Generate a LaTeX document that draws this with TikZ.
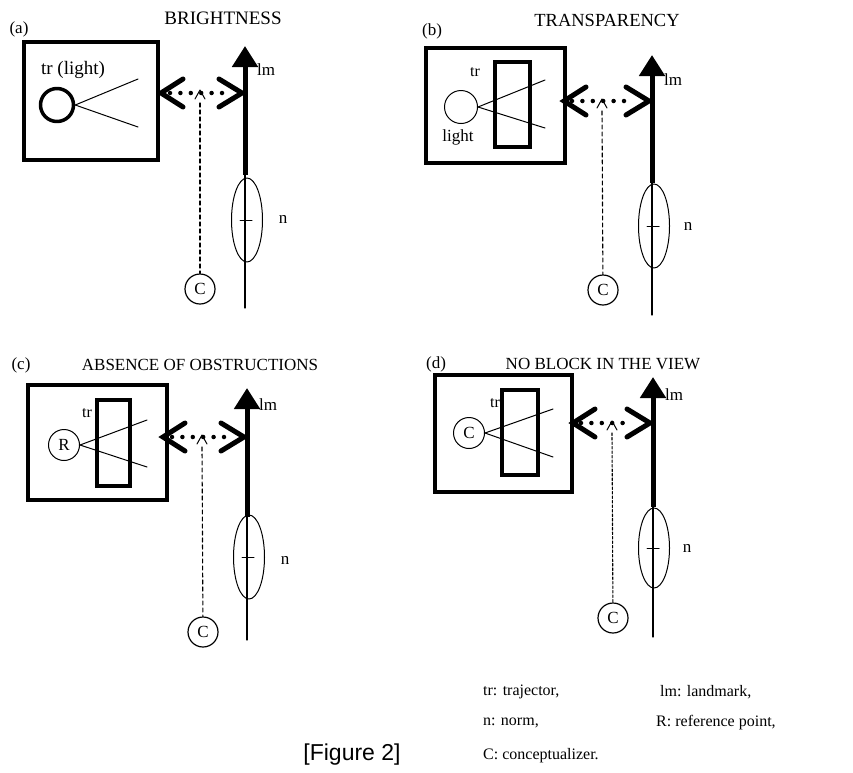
\documentclass[tikz,border=0pt]{standalone}
\usepackage{fontspec}
\setmainfont{Liberation Serif}
\newfontfamily\figfont{Liberation Sans}
\usetikzlibrary{calc,arrows.meta,positioning,shapes.geometric}

\begin{document}
\begin{tikzpicture}[x=1pt, y=-1pt, line cap=round, line join=round,
  frame/.style={line width=4.5pt, line join=miter, line cap=butt},
  blocker/.style={line width=4.5pt, line join=miter, line cap=butt},
  ray/.style={line width=1pt},
  lamp/.style={circle, draw, line width=1pt, minimum size=31pt, inner sep=0pt,
               font=\fontsize{17}{17}\selectfont},
  conc/.style={circle, draw, line width=1.2pt, minimum size=30pt, inner sep=0pt,
               font=\fontsize{17}{17}\selectfont},
  norm/.style={ellipse, draw, line width=1pt, minimum width=31pt,
               minimum height=84pt, inner sep=0pt},
  lmaxis/.style={line width=5pt, line cap=butt,
                 -{Triangle[length=21pt,width=25pt]}},
  bracket/.style={line width=5pt, line join=miter},
  viewdots/.style={line width=4.5pt, dash pattern=on 0pt off 10.4pt},
  sight/.style={line width=1.1pt, dash pattern=on 4pt off 3pt},
  lbl/.style={font=\fontsize{17}{17}\selectfont, inner sep=1pt},
  ttl/.style={inner sep=0pt},
  key/.style={font=\fontsize{16}{16}\selectfont, anchor=west, inner sep=0pt}]

\useasboundingbox (0,0) rectangle (853,772);

% ---------------------------------------------------------
% (a) Brightness
% ---------------------------------------------------------
\node[ttl, font=\fontsize{17}{17}\selectfont] (a-tag) at (19,29) {(a)};
\node[ttl, font=\fontsize{19}{19}\selectfont] (a-title) at (223,18) {BRIGHTNESS};

\begin{scope}[shift={(245,95)}]
% frame with the light source
\draw[frame] (-221,-53) rectangle (-87,65);
\node[lamp, line width=3.5pt, minimum size=33pt] (a-tr) at (-188,10) {};
\coordinate (a-up) at (-107,-16);
\coordinate (a-dn) at (-107,32);
\draw[ray] (a-tr.east) -- (a-up);
\draw[ray] (a-tr.east) -- (a-dn);
\node[lbl, font=\fontsize{19}{19}\selectfont] (a-trlab) at (-172,-25) {tr (light)};

% landmark axis and norm
\coordinate (a-top) at (0,-49);
\coordinate (a-mid) at (0,80);
\coordinate (a-bot) at (0,213);
\draw[lmaxis] (a-mid) -- (a-top);
\draw[line width=1.1pt] (a-mid) -- (a-bot);
\node[norm] (a-norm) at (2,125) {};
\draw[line width=1pt] ($(a-norm.center)+(-7,0)$) -- ($(a-norm.center)+(5,0)$);
\node[lbl, anchor=west] (a-lm) at (11,-25) {lm};
\node[lbl] (a-n) at (38,124) {n};

% brackets and line of view
\coordinate (a-L) at (-84,-2);
\coordinate (a-R) at (-3,-2);
\draw[bracket] (-62,-16) -- (a-L) -- (-62,12);
\draw[bracket] (-26,-16) -- (a-R) -- (-26,12);
\draw[viewdots] (-75,-2) -- (-23,-2);

% conceptualizer
\coordinate (a-v) at (-45,-5);
\draw[line width=1pt] (-50,4) -- (a-v) -- (-40,4);
\node[conc] (a-C) at (-45,194) {C};
\draw[sight] (-45,8) -- (a-C);
\end{scope}

% ---------------------------------------------------------
% (b) Transparency
% ---------------------------------------------------------
\node[ttl, font=\fontsize{17}{17}\selectfont] (b-tag) at (432,31) {(b)};
\node[ttl, font=\fontsize{18.5}{18.5}\selectfont] (b-title) at (607,20) {TRANSPARENCY};

\begin{scope}[shift={(652,101)}]
% frame with light behind the medium
\draw[frame] (-226,-53) rectangle (-87,62);
\draw[blocker] (-157,-39) rectangle (-122,46);
\node[lamp, minimum size=33pt] (b-light) at (-191,6) {};
\coordinate (b-up) at (-107,-21);
\coordinate (b-dn) at (-107,27);
\draw[ray] (b-light.east) -- (b-up);
\draw[ray] (b-light.east) -- (b-dn);
\node[lbl, font=\fontsize{16}{16}\selectfont] (b-tr) at (-177,-29) {tr};
\node[lbl] (b-lightlab) at (-194,36) {light};

% landmark axis and norm
\coordinate (b-top) at (0,-46);
\coordinate (b-mid) at (0,82);
\coordinate (b-bot) at (0,214);
\draw[lmaxis] (b-mid) -- (b-top);
\draw[line width=1.1pt] (b-mid) -- (b-bot);
\node[norm] (b-norm) at (2,125) {};
\draw[line width=1pt] ($(b-norm.center)+(-7,0)$) -- ($(b-norm.center)+(5,0)$);
\node[lbl, anchor=west] (b-lm) at (11,-21) {lm};
\node[lbl] (b-n) at (36,125) {n};

% brackets and line of view
\coordinate (b-L) at (-88,0);
\coordinate (b-R) at (-3,0);
\draw[bracket] (-66,-14) -- (b-L) -- (-66,14);
\draw[bracket] (-26,-14) -- (b-R) -- (-26,14);
\draw[viewdots] (-80,0) -- (-23,0);

% conceptualizer
\coordinate (b-v) at (-50,-2);
\draw[line width=1pt] (-55,7) -- (b-v) -- (-45,7);
\node[conc] (b-C) at (-49,189) {C};
\draw[sight] (-50,10) -- (b-C);
\end{scope}

% ---------------------------------------------------------
% (c) Absence of obstructions
% ---------------------------------------------------------
\node[ttl, font=\fontsize{17}{17}\selectfont] (c-tag) at (21,365) {(c)};
\node[ttl, font=\fontsize{17}{17}\selectfont] (c-title) at (200,365) {ABSENCE OF OBSTRUCTIONS};

\begin{scope}[shift={(247,437)}]
% frame with reference point and obstruction
\draw[frame] (-219,-52) rectangle (-80,63);
\draw[blocker] (-150,-37) rectangle (-117,49);
\node[lamp] (c-R) at (-183,8) {R};
\coordinate (c-up) at (-100,-17);
\coordinate (c-dn) at (-100,30);
\draw[ray] (c-R.east) -- (c-up);
\draw[ray] (c-R.east) -- (c-dn);
\node[lbl, font=\fontsize{16}{16}\selectfont] (c-tr) at (-160,-24) {tr};

% landmark axis and norm
\coordinate (c-top) at (0,-49);
\coordinate (c-mid) at (0,80);
\coordinate (c-bot) at (0,203);
\draw[lmaxis] (c-mid) -- (c-top);
\draw[line width=1.1pt] (c-mid) -- (c-bot);
\node[norm] (c-norm) at (2,120) {};
\draw[line width=1pt] ($(c-norm.center)+(-7,0)$) -- ($(c-norm.center)+(5,0)$);
\node[lbl, anchor=west] (c-lm) at (11,-32) {lm};
\node[lbl] (c-n) at (38,123) {n};

% brackets and line of view
\coordinate (c-L) at (-84,0);
\coordinate (c-R) at (-3,0);
\draw[bracket] (-62,-14) -- (c-L) -- (-62,14);
\draw[bracket] (-26,-14) -- (c-R) -- (-26,14);
\draw[viewdots] (-75,0) -- (-23,0);

% conceptualizer
\coordinate (c-v) at (-45,-2);
\draw[line width=1pt] (-50,7) -- (c-v) -- (-40,7);
\node[conc] (c-C) at (-44,195) {C};
\draw[sight] (-45,10) -- (c-C);
\end{scope}

% ---------------------------------------------------------
% (d) No block in the view
% ---------------------------------------------------------
\node[ttl, font=\fontsize{17}{17}\selectfont] (d-tag) at (436,364) {(d)};
\node[ttl, font=\fontsize{17}{17}\selectfont] (d-title) at (603,364) {NO BLOCK IN THE VIEW};

\begin{scope}[shift={(653,423)}]
% frame with conceptualizer as reference point
\draw[frame] (-218,-48) rectangle (-81,69);
\draw[blocker] (-151,-33) rectangle (-115,52);
\node[lamp] (d-Cin) at (-184,10) {C};
\coordinate (d-up) at (-100,-14);
\coordinate (d-dn) at (-100,34);
\draw[ray] (d-Cin.east) -- (d-up);
\draw[ray] (d-Cin.east) -- (d-dn);
\node[lbl, font=\fontsize{16}{16}\selectfont] (d-tr) at (-158,-20) {tr};

% landmark axis and norm
\coordinate (d-top) at (0,-46);
\coordinate (d-mid) at (0,84);
\coordinate (d-bot) at (0,214);
\draw[lmaxis] (d-mid) -- (d-top);
\draw[line width=1.1pt] (d-mid) -- (d-bot);
\node[norm, minimum height=80pt] (d-norm) at (1,125) {};
\draw[line width=1pt] ($(d-norm.center)+(-7,0)$) -- ($(d-norm.center)+(5,0)$);
\node[lbl, anchor=west] (d-lm) at (11,-28) {lm};
\node[lbl] (d-n) at (34,125) {n};

% brackets and line of view
\coordinate (d-L) at (-80,0);
\coordinate (d-R) at (-3,0);
\draw[bracket] (-58,-14) -- (d-L) -- (-58,14);
\draw[bracket] (-26,-14) -- (d-R) -- (-26,14);
\draw[viewdots] (-72,0) -- (-23,0);

% conceptualizer
\coordinate (d-v) at (-41,-2);
\draw[line width=1pt] (-46,7) -- (d-v) -- (-36,7);
\node[conc] (d-C) at (-40,195) {C};
\draw[sight, dash pattern=on 2.5pt off 2pt] (-41,10) -- (d-C);
\end{scope}

% ---------------------------------------------------------
% Key
% ---------------------------------------------------------
\node[key] (k-tr) at (483,692) {tr: trajector,};
\node[key] (k-lm) at (660,692) {lm: landmark,};
\node[key] (k-n)  at (483,723) {n: norm,};
\node[key] (k-R)  at (656,723) {R: reference point,};
\node[key] (k-C)  at (483,756) {C: conceptualizer.};
\node[font=\figfont\fontsize{23}{23}\selectfont, inner sep=0pt] (fig) at (352,755) {[Figure 2]};

\end{tikzpicture}
\end{document}
